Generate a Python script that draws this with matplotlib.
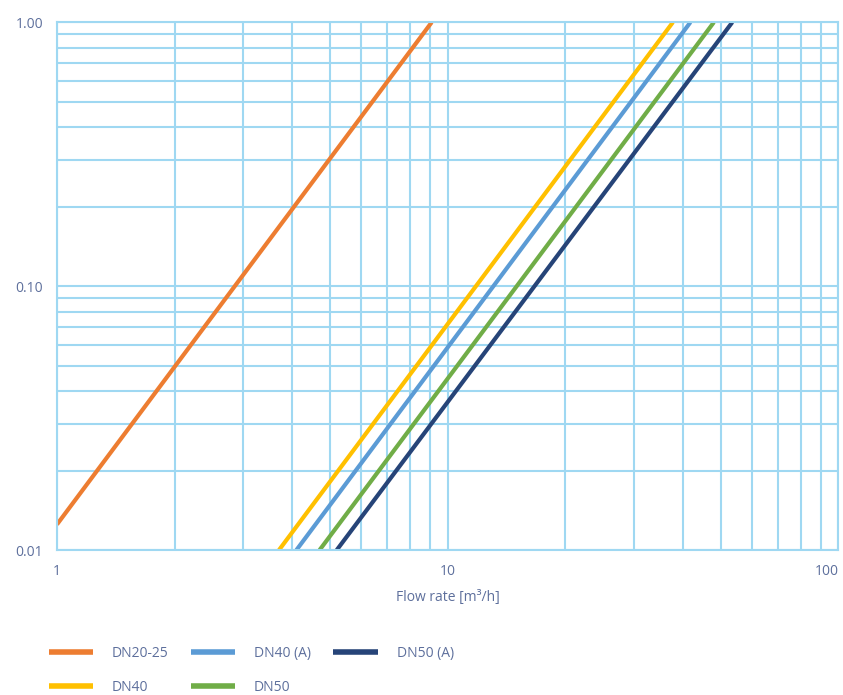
import matplotlib.pyplot as plt
from matplotlib.ticker import FixedLocator, FixedFormatter, NullFormatter

# endpoints (flow rate m3/h, pressure drop)
dn20_25_q = [1.0, 9.1]
dn20_25_dp = [0.0125, 1.0]
dn40_q = [3.7, 37.7]
dn40_dp = [0.01, 1.0]
dn40a_q = [4.1, 41.8]
dn40a_dp = [0.01, 1.0]
dn50_q = [4.7, 48.0]
dn50_dp = [0.01, 1.0]
dn50a_q = [5.2, 53.5]
dn50a_dp = [0.01, 1.0]

x_ticks = [1, 10, 100]
x_labels = ["1", "10", "100"]
y_ticks = [0.01, 0.1, 1.0]
y_labels = ["0.01", "0.10", "1.00"]

txt = "#5d6f9c"
grid = "#9fd8f2"

plt.rcParams['font.family'] = ['Open Sans', 'DejaVu Sans']

fig = plt.figure(figsize=(8.43, 6.95), dpi=100)
ax = fig.add_axes([0.0676, 0.2086, 0.927, 0.7594])

ax.plot(dn20_25_q, dn20_25_dp, color="#ED7D31", lw=3, label="DN20-25", solid_capstyle="butt")
ax.plot(dn40_q, dn40_dp, color="#FFC000", lw=3, label="DN40", solid_capstyle="butt")
ax.plot(dn40a_q, dn40a_dp, color="#5B9BD5", lw=3, label="DN40 (A)", solid_capstyle="butt")
ax.plot(dn50_q, dn50_dp, color="#70AD47", lw=3, label="DN50", solid_capstyle="butt")
ax.plot(dn50a_q, dn50a_dp, color="#264478", lw=3, label="DN50 (A)", solid_capstyle="butt")

ax.set_xscale("log")
ax.set_yscale("log")
ax.set_xlim(1, 100)
ax.set_ylim(0.01, 1.0)

ax.xaxis.set_major_locator(FixedLocator(x_ticks))
ax.xaxis.set_major_formatter(FixedFormatter(x_labels))
ax.yaxis.set_major_locator(FixedLocator(y_ticks))
ax.yaxis.set_major_formatter(FixedFormatter(y_labels))
ax.xaxis.set_minor_formatter(NullFormatter())
ax.yaxis.set_minor_formatter(NullFormatter())

ax.grid(True, which="both", color=grid, lw=1.5)
ax.set_axisbelow(True)
ax.tick_params(which="both", length=0, colors=txt, labelsize=10)
ax.tick_params(axis="y", pad=10)
ax.tick_params(axis="x", pad=10)
for s in ax.spines.values():
    s.set_color(grid)
    s.set_linewidth(1.5)

# keep the last x label inside the figure
ax.get_xticklabels()[-1].set_ha("right")

ax.set_xlabel("Flow rate [m³/h]", color=txt, fontsize=10, labelpad=8)

leg = fig.legend(loc="upper left", bbox_to_anchor=(0.043, 0.089), ncol=3, frameon=False,
                 fontsize=10, labelcolor=txt, handlelength=3.2, handletextpad=1.35,
                 columnspacing=1.6, labelspacing=1.4)
for line in leg.get_lines():
    line.set_linewidth(4)

fig.savefig("out.png", dpi=100)
